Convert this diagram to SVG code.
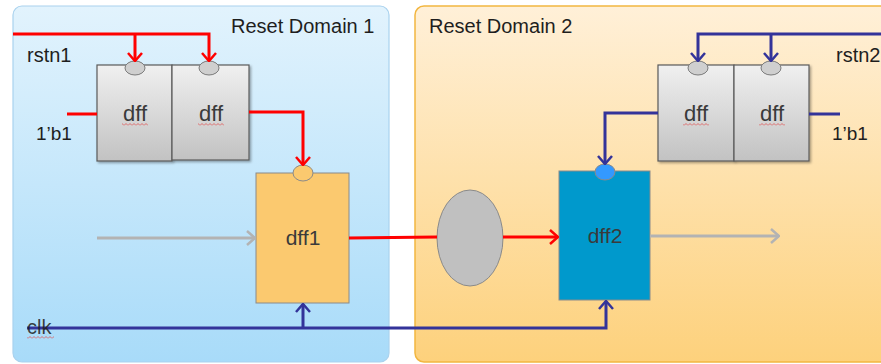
<svg xmlns="http://www.w3.org/2000/svg" width="881" height="364" viewBox="0 0 881 364">
<style>
  .lbl{font-family:"Liberation Sans",Arial,sans-serif;fill:#1e1e1e}
  .dt{font-family:"Liberation Sans",Arial,sans-serif;fill:#3a3a3a;text-anchor:middle}
  .red{stroke:#ff0000;stroke-width:3;fill:none}
  .blue{stroke:#33339a;stroke-width:3;fill:none}
  .gray{stroke:#b3b3b3;stroke-width:3;fill:none}
  .gdff{fill:url(#gGray);stroke:#5a5a5a;stroke-width:1.2;filter:url(#sh)}
  .knob{fill:#cfcfcf;stroke:#7a7a7a;stroke-width:1}
</style>
<defs>
  <linearGradient id="gD1" x1="0" y1="0" x2="0" y2="1">
    <stop offset="0" stop-color="#e2f3fd"/>
    <stop offset="1" stop-color="#a8dbf9"/>
  </linearGradient>
  <linearGradient id="gD2" x1="0" y1="0" x2="0" y2="1">
    <stop offset="0" stop-color="#fff0d8"/>
    <stop offset="1" stop-color="#fdd17c"/>
  </linearGradient>
  <linearGradient id="gGray" x1="0" y1="0" x2="0" y2="1">
    <stop offset="0" stop-color="#f0f0f0"/>
    <stop offset="1" stop-color="#c2c2c2"/>
  </linearGradient>
  <filter id="sh" x="-10%" y="-10%" width="130%" height="130%">
    <feDropShadow dx="1.5" dy="1.5" stdDeviation="1.2" flood-color="#000" flood-opacity="0.35"/>
  </filter>
  <pattern id="sq" width="4" height="3" patternUnits="userSpaceOnUse">
    <path d="M0,2.5 L2,0.5 L4,2.5" fill="none" stroke="#e05050" stroke-width="0.8"/>
  </pattern>
  <marker id="aRed" viewBox="0 0 10 16" refX="9" refY="8" markerWidth="10" markerHeight="16" markerUnits="userSpaceOnUse" orient="auto">
    <path d="M1,1 L9,8 L1,15" fill="none" stroke="#ff0000" stroke-width="2.5"/>
  </marker>
  <marker id="aBlue" viewBox="0 0 10 16" refX="9" refY="8" markerWidth="10" markerHeight="16" markerUnits="userSpaceOnUse" orient="auto">
    <path d="M1,1 L9,8 L1,15" fill="none" stroke="#33339a" stroke-width="2.5"/>
  </marker>
  <marker id="aGray" viewBox="0 0 10 16" refX="9" refY="8" markerWidth="10" markerHeight="16" markerUnits="userSpaceOnUse" orient="auto">
    <path d="M1,1 L9,8 L1,15" fill="none" stroke="#b3b3b3" stroke-width="2.5"/>
  </marker>
</defs>

<rect width="881" height="364" fill="#ffffff"/>

<g id="domain1">
  <rect x="13" y="6" width="376" height="356" rx="9" fill="url(#gD1)" stroke="#a9d2ee" stroke-width="1.2"/>
  <text class="lbl" x="231" y="33" font-size="20">Reset Domain 1</text>
</g>
<g id="domain2">
  <rect x="415" y="6" width="480" height="356" rx="9" fill="url(#gD2)" stroke="#f2b640" stroke-width="1.5"/>
  <text class="lbl" x="429" y="33" font-size="20">Reset Domain 2</text>
</g>

<g id="labels">
  <text class="lbl" x="27" y="62" font-size="20">rstn1</text>
  <text class="lbl" x="36" y="140" font-size="19">1’b1</text>
  <text class="lbl" x="836" y="62" font-size="20">rstn2</text>
  <text class="lbl" x="832" y="140" font-size="19">1’b1</text>
</g>

<g id="dffA1">
  <rect class="gdff" x="97" y="65" width="75" height="96"/>
  <ellipse class="knob" cx="135" cy="68" rx="10" ry="7"/>
  <text class="dt" x="135" y="121" font-size="22">dff</text>
  <rect x="122" y="123" width="26" height="3" fill="url(#sq)"/>
</g>
<g id="dffA2">
  <rect class="gdff" x="172" y="65" width="77" height="95"/>
  <ellipse class="knob" cx="209" cy="68" rx="10" ry="7"/>
  <text class="dt" x="211" y="121" font-size="22">dff</text>
  <rect x="198" y="123" width="26" height="3" fill="url(#sq)"/>
</g>
<g id="dffB1">
  <rect class="gdff" x="658" y="65" width="76" height="96"/>
  <ellipse class="knob" cx="698" cy="68" rx="10" ry="7"/>
  <text class="dt" x="696" y="121" font-size="22">dff</text>
  <rect x="683" y="123" width="26" height="3" fill="url(#sq)"/>
</g>
<g id="dffB2">
  <rect class="gdff" x="734" y="65" width="75" height="96"/>
  <ellipse class="knob" cx="771" cy="68" rx="10" ry="7"/>
  <text class="dt" x="772" y="121" font-size="22">dff</text>
  <rect x="759" y="123" width="26" height="3" fill="url(#sq)"/>
</g>

<g id="dff1">
  <rect x="256" y="173" width="93" height="130" fill="#fbc96f" stroke="#8a8a8a" stroke-width="1"/>
  <ellipse cx="303" cy="173" rx="10" ry="8" fill="#fbc96f" stroke="#8a8a8a" stroke-width="1"/>
  <text class="dt" x="303" y="245" font-size="21">dff1</text>
</g>
<g id="sync">
  <ellipse cx="470" cy="238" rx="33" ry="48" fill="#c0c0c0" stroke="#8a8a8a" stroke-width="1"/>
</g>
<g id="dff2">
  <rect x="559" y="171" width="91" height="129" fill="#0099cc" stroke="#8a8a8a" stroke-width="1"/>
  <ellipse cx="605" cy="172" rx="10" ry="8" fill="#3399ff" stroke="#8a8a8a" stroke-width="1"/>
  <text class="dt" x="605" y="243" font-size="21">dff2</text>
</g>

<g id="connectors">
  <polyline class="red" points="13,34 209,34 209,61" marker-end="url(#aRed)"/>
  <polyline class="red" points="135,34 135,61" marker-end="url(#aRed)"/>
  <line class="red" x1="67" y1="114" x2="97" y2="114"/>
  <polyline class="red" points="249,112 303,112 303,165" marker-end="url(#aRed)"/>
  <line class="gray" x1="97" y1="238" x2="255" y2="238" marker-end="url(#aGray)"/>
  <line class="red" x1="349" y1="238" x2="437" y2="237"/>
  <line class="red" x1="503" y1="237" x2="558" y2="237" marker-end="url(#aRed)"/>
  <line class="gray" x1="650" y1="236" x2="779" y2="236" marker-end="url(#aGray)"/>
  <polyline class="blue" points="881,34 698,34 698,61" marker-end="url(#aBlue)"/>
  <polyline class="blue" points="771,34 771,61" marker-end="url(#aBlue)"/>
  <line class="blue" x1="809" y1="114" x2="840" y2="114"/>
  <polyline class="blue" points="658,113 605,113 605,164" marker-end="url(#aBlue)"/>
  <polyline class="blue" points="27,328 606,328 606,301" marker-end="url(#aBlue)"/>
  <polyline class="blue" points="303,328 303,304" marker-end="url(#aBlue)"/>
</g>

<g id="clkLabel">
  <text class="lbl" x="27" y="334" font-size="20" fill-opacity="0.85">clk</text>
  <rect x="27" y="336" width="27" height="3" fill="url(#sq)"/>
</g>
</svg>
